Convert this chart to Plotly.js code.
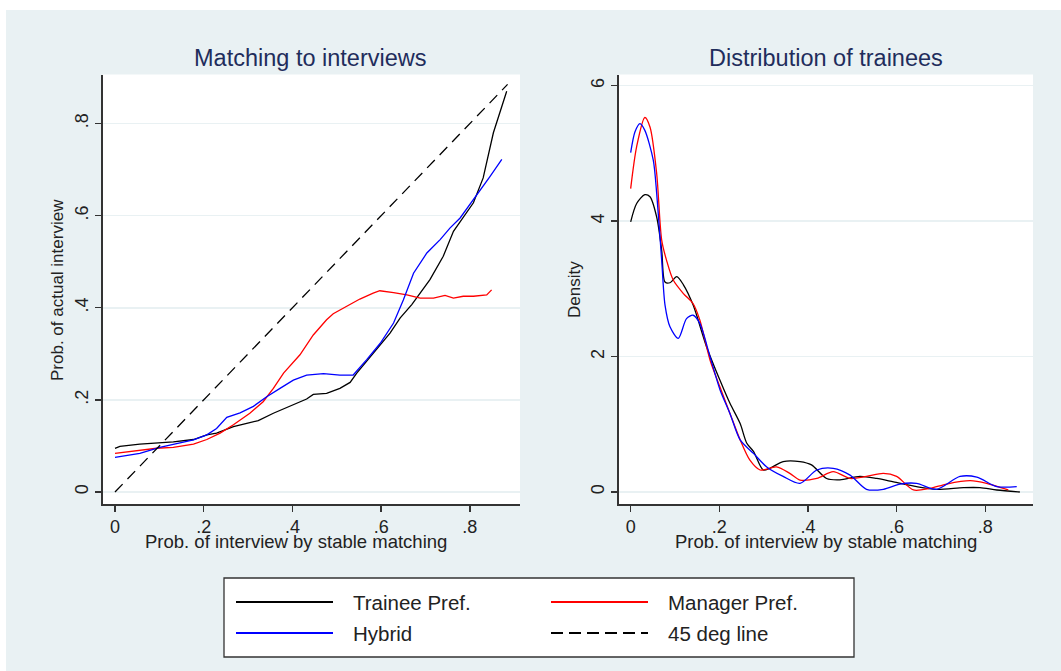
<!DOCTYPE html>
<html>
<head>
<meta charset="utf-8">
<script src="https://cdn.plot.ly/plotly-3.0.1.min.js"></script>
<style>html,body{margin:0;padding:0;background:#fff;}#chart{width:1061px;height:671px;}</style>
</head>
<body>
<div id="chart"></div>
<script>
// ---------- Left panel: Matching to interviews ----------
var traineeX = [0,0.011,0.056,0.1315,0.177,0.207,0.229,0.267,0.297,0.323,0.357,0.395,0.432,0.447,0.477,0.507,0.530,0.545,0.582,0.620,0.643,0.669,0.710,0.740,0.763,0.793,0.808,0.830,0.853,0.883];
var traineeY = [0.095,0.099,0.104,0.109,0.114,0.124,0.128,0.142,0.149,0.155,0.171,0.187,0.202,0.212,0.214,0.225,0.238,0.258,0.301,0.345,0.378,0.407,0.461,0.512,0.566,0.606,0.628,0.682,0.78,0.87];

var managerX = [0,0.056,0.094,0.1315,0.177,0.207,0.237,0.267,0.304,0.334,0.357,0.380,0.417,0.447,0.477,0.492,0.515,0.552,0.582,0.597,0.628,0.658,0.688,0.718,0.744,0.763,0.785,0.808,0.838,0.849];
var managerY = [0.084,0.090,0.095,0.097,0.104,0.114,0.128,0.146,0.171,0.196,0.225,0.258,0.298,0.341,0.374,0.387,0.399,0.419,0.432,0.437,0.433,0.428,0.421,0.421,0.427,0.421,0.425,0.425,0.428,0.439];

var hybridX = [0,0.056,0.101,0.147,0.177,0.207,0.229,0.252,0.282,0.312,0.342,0.372,0.402,0.432,0.470,0.507,0.537,0.567,0.598,0.628,0.650,0.673,0.703,0.733,0.755,0.778,0.800,0.823,0.846,0.872];
var hybridY = [0.075,0.084,0.097,0.106,0.113,0.124,0.138,0.162,0.172,0.186,0.207,0.225,0.243,0.254,0.257,0.254,0.254,0.287,0.323,0.367,0.417,0.475,0.519,0.548,0.573,0.595,0.624,0.653,0.686,0.722];

var diagX = [0, 0.885];
var diagY = [0, 0.885];

// ---------- Right panel: Distribution of trainees (density) ----------
var densTraineeX = [0,0.0135,0.032,0.0436,0.0587,0.07,0.0775,0.0887,0.104,0.119,0.141,0.171,0.2015,0.224,0.247,0.262,0.277,0.299,0.314,0.344,0.382,0.408,0.442,0.472,0.517,0.555,0.593,0.645,0.690,0.751,0.788,0.826,0.878];
var densTraineeY = [3.99,4.26,4.39,4.36,4.06,3.57,3.10,3.09,3.18,3.06,2.76,2.15,1.65,1.31,1.01,0.72,0.60,0.325,0.35,0.45,0.45,0.40,0.20,0.18,0.23,0.20,0.15,0.08,0.04,0.064,0.064,0.03,0.0];

var densManagerX = [0,0.0135,0.032,0.0436,0.0587,0.07,0.081,0.096,0.119,0.141,0.156,0.179,0.2015,0.224,0.247,0.269,0.292,0.329,0.359,0.382,0.420,0.457,0.495,0.532,0.570,0.600,0.638,0.675,0.713,0.766,0.803,0.852];
var densManagerY = [4.48,5.10,5.53,5.39,4.70,3.72,3.42,3.13,2.93,2.78,2.54,1.95,1.55,1.16,0.77,0.47,0.325,0.37,0.275,0.177,0.20,0.30,0.20,0.23,0.275,0.23,0.03,0.054,0.118,0.167,0.128,0.03];

var densHybridX = [0,0.0098,0.021,0.032,0.051,0.0587,0.07,0.0775,0.0887,0.1075,0.126,0.141,0.156,0.179,0.2015,0.224,0.247,0.277,0.307,0.344,0.382,0.420,0.457,0.495,0.532,0.570,0.608,0.645,0.690,0.743,0.781,0.826,0.871];
var densHybridY = [5.01,5.32,5.44,5.34,4.90,4.41,3.42,2.76,2.44,2.27,2.56,2.61,2.49,2.00,1.51,1.16,0.77,0.57,0.37,0.23,0.128,0.325,0.35,0.25,0.04,0.04,0.118,0.128,0.04,0.23,0.22,0.08,0.08];

var leftTickVals = [0, 0.2, 0.4, 0.6, 0.8];
var leftTickText = ["0", ".2", ".4", ".6", ".8"];
var rightYTickVals = [0, 2, 4, 6];
var rightYTickText = ["0", "2", "4", "6"];

var seriesNames = ["Trainee Pref.", "Manager Pref.", "Hybrid", "45 deg line"];

var W = 1061, H = 671;
function px(x){ return x / W; }
function py(y){ return 1 - y / H; }

var FONT = "Liberation Sans, Arial, sans-serif";
var TXT = "#222222";
var TITLE = "#1f2d5c";
var BG = "#e9f1f3";

var lw = 1.3;
var traces = [
  {x: traineeX, y: traineeY, mode: "lines", line: {color: "#000000", width: lw}, xaxis: "x", yaxis: "y", name: seriesNames[0]},
  {x: managerX, y: managerY, mode: "lines", line: {color: "#ff0000", width: lw}, xaxis: "x", yaxis: "y", name: seriesNames[1]},
  {x: hybridX, y: hybridY, mode: "lines", line: {color: "#0000ff", width: lw}, xaxis: "x", yaxis: "y", name: seriesNames[2]},
  {x: diagX, y: diagY, mode: "lines", line: {color: "#000000", width: lw, dash: "11px,7px"}, xaxis: "x", yaxis: "y", name: seriesNames[3]},
  {x: densTraineeX, y: densTraineeY, mode: "lines", line: {color: "#000000", width: lw, shape: "spline", smoothing: 0.8}, xaxis: "x2", yaxis: "y2", name: seriesNames[0]},
  {x: densManagerX, y: densManagerY, mode: "lines", line: {color: "#ff0000", width: lw, shape: "spline", smoothing: 0.8}, xaxis: "x2", yaxis: "y2", name: seriesNames[1]},
  {x: densHybridX, y: densHybridY, mode: "lines", line: {color: "#0000ff", width: lw, shape: "spline", smoothing: 0.8}, xaxis: "x2", yaxis: "y2", name: seriesNames[2]}
];

function axisBase(){
  return {
    showline: true, linecolor: "#333333", linewidth: 1.5, mirror: false,
    ticks: "outside", ticklen: 6, tickwidth: 1.3, tickcolor: "#333333",
    tickfont: {family: FONT, size: 18, color: TXT},
    zeroline: false, fixedrange: true
  };
}
var xa = Object.assign(axisBase(), {domain: [px(102.7), px(520)], range: [-0.0277, 0.913], tickmode: "array", tickvals: leftTickVals, ticktext: leftTickText, showgrid: false, anchor: "y"});
var ya = Object.assign(axisBase(), {domain: [py(504), py(74.5)], range: [-0.026, 0.9065], tickmode: "array", tickvals: leftTickVals, ticktext: leftTickText, showgrid: true, gridcolor: BG, gridwidth: 1.5, tickangle: -90, anchor: "x"});
var xa2 = Object.assign(axisBase(), {domain: [px(618.7), px(1033)], range: [-0.027, 0.9077], tickmode: "array", tickvals: leftTickVals, ticktext: leftTickText, showgrid: false, anchor: "y2"});
var ya2 = Object.assign(axisBase(), {domain: [py(504), py(74.5)], range: [-0.177, 6.165], tickmode: "array", tickvals: rightYTickVals, ticktext: rightYTickText, showgrid: true, gridcolor: BG, gridwidth: 1.5, tickangle: -90, anchor: "x2"});

var annotations = [
  {text: "Matching to interviews", x: px(310), y: py(58), xref: "paper", yref: "paper", showarrow: false, xanchor: "center", yanchor: "middle", font: {family: FONT, size: 23.5, color: TITLE}},
  {text: "Distribution of trainees", x: px(826), y: py(58), xref: "paper", yref: "paper", showarrow: false, xanchor: "center", yanchor: "middle", font: {family: FONT, size: 23.5, color: TITLE}},
  {text: "Prob. of interview by stable matching", x: px(296), y: py(541), xref: "paper", yref: "paper", showarrow: false, xanchor: "center", yanchor: "middle", font: {family: FONT, size: 18.5, color: TXT}},
  {text: "Prob. of interview by stable matching", x: px(826), y: py(541), xref: "paper", yref: "paper", showarrow: false, xanchor: "center", yanchor: "middle", font: {family: FONT, size: 18.5, color: TXT}},
  {text: "Prob. of actual interview", x: px(57), y: py(290), xref: "paper", yref: "paper", showarrow: false, textangle: -90, xanchor: "center", yanchor: "middle", font: {family: FONT, size: 17, color: TXT}},
  {text: "Density", x: px(574), y: py(290), xref: "paper", yref: "paper", showarrow: false, textangle: -90, xanchor: "center", yanchor: "middle", font: {family: FONT, size: 17, color: TXT}}
];

// Legend (drawn as box + key lines + labels)
var legendRows = [602, 633];
var legendCols = [{x0: 236, x1: 333, tx: 351}, {x0: 551, x1: 648, tx: 666}];
var legendStyles = [
  {color: "#000000", dash: "solid"},
  {color: "#ff0000", dash: "solid"},
  {color: "#0000ff", dash: "solid"},
  {color: "#000000", dash: "12px,6px"}
];
var shapes = [
  {type: "rect", xref: "paper", yref: "paper", x0: 0, x1: 1, y0: py(10), y1: 1, fillcolor: "#ffffff", line: {width: 0}, layer: "below"},
  {type: "rect", xref: "paper", yref: "paper", x0: 0, x1: px(6), y0: 0, y1: 1, fillcolor: "#ffffff", line: {width: 0}, layer: "below"},
  {type: "rect", xref: "paper", yref: "paper", x0: px(224), x1: px(854), y0: py(657), y1: py(578), fillcolor: "#ffffff", line: {color: "#333333", width: 1.3}}
];
for (var i = 0; i < seriesNames.length; i++) {
  var r = Math.floor(i / 2), c = i % 2;
  var col = legendCols[c];
  shapes.push({type: "line", xref: "paper", yref: "paper", x0: px(col.x0), x1: px(col.x1), y0: py(legendRows[r]), y1: py(legendRows[r]), line: {color: legendStyles[i].color, width: 2.2, dash: legendStyles[i].dash}});
  annotations.push({text: seriesNames[i], x: px(col.tx), y: py(legendRows[r]), xref: "paper", yref: "paper", showarrow: false, xanchor: "left", yanchor: "middle", font: {family: FONT, size: 20.5, color: TXT}});
}

var layout = {
  width: W, height: H,
  margin: {l: 0, r: 0, t: 0, b: 0, pad: 0},
  paper_bgcolor: BG, plot_bgcolor: "#ffffff",
  showlegend: false,
  xaxis: xa, yaxis: ya, xaxis2: xa2, yaxis2: ya2,
  annotations: annotations,
  shapes: shapes,
  font: {family: FONT, color: TXT}
};

Plotly.newPlot("chart", traces, layout, {displayModeBar: false, staticPlot: true});
</script>
</body>
</html>
